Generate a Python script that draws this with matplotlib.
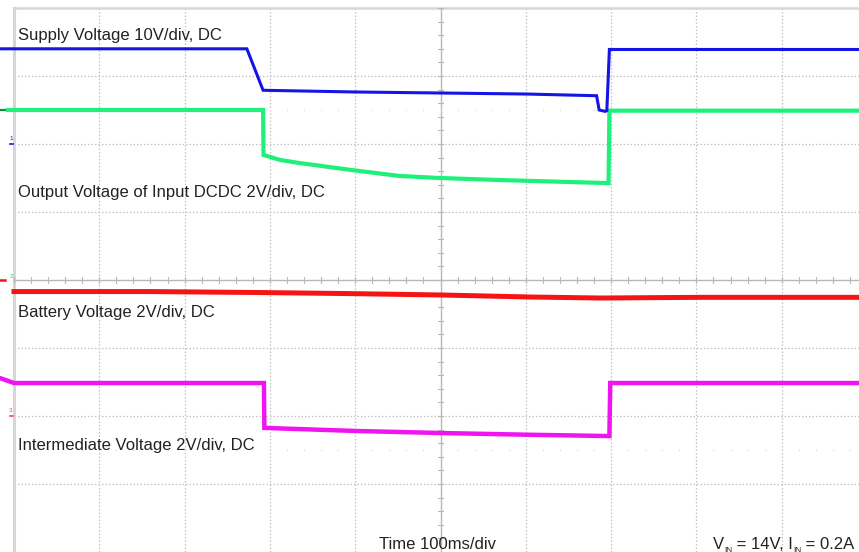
import matplotlib
matplotlib.use("Agg")
import matplotlib.pyplot as plt
import numpy as np

plt.rcParams['font.family'] = ['Liberation Sans', 'DejaVu Sans']

# Screen geometry: 10 horizontal divisions of 100 ms, 8 vertical divisions
MS_PER_DIV = 100.0
N_HDIV = 10
N_VDIV = 8

# Channel settings (volts per division, ground position in divisions from centre)
supply_scale, supply_ground = 10.0, 2.0
dcdc_scale, dcdc_ground = 2.0, 0.0
battery_scale, battery_ground = 2.0, -2.0
inter_scale, inter_ground = 2.0, -4.0

# Supply voltage (CH1)
supply_t = [-17, 273, 292, 400, 500, 600, 683, 686, 693, 695, 698, 990]
supply_v = [14.0, 14.0, 7.9, 7.65, 7.5, 7.35, 7.1, 5.0, 4.8, 4.9, 13.9, 13.9]

# Output voltage of input DC/DC (CH2)
dcdc_t = [-7, 292, 292.5, 312, 335, 394, 452, 499, 570, 640, 697, 698, 990]
dcdc_v = [5.0, 5.0, 3.68, 3.53, 3.44, 3.24, 3.06, 3.0, 2.94, 2.89, 2.85, 4.98, 4.98]
dcdc_pre_t = [-17, -7]
dcdc_pre_v = [5.0, 5.0]

# Battery voltage (CH3)
battery_t = [0, 160, 294, 394, 499, 605, 687, 804, 990]
battery_v = [3.66, 3.66, 3.63, 3.60, 3.56, 3.50, 3.47, 3.49, 3.49]

# Intermediate voltage (CH4)
inter_t = [-17, 0, 293, 293.5, 400, 500, 600, 698, 699, 990]
inter_v = [5.12, 4.97, 4.97, 3.65, 3.56, 3.50, 3.45, 3.41, 4.97, 4.97]

trace_labels = [
    "Supply Voltage 10V/div, DC",
    "Output Voltage of Input DCDC 2V/div, DC",
    "Battery Voltage 2V/div, DC",
    "Intermediate Voltage 2V/div, DC",
]
time_label = "Time 100ms/div"
cond_parts = ["V", "IN", " = 14V, I", "IN", " = 0.2A"]

BLUE = "#1414e6"
GREEN = "#1ef07a"
DARK_GREEN = "#178a40"
RED = "#f51414"
MAGENTA = "#f014f0"
TEXT = "#222222"
GRID = "#c2c2c2"
BORDER = "#d6d6d6"


def to_div(v, scale, ground):
    return np.asarray(v) / scale + ground


fig = plt.figure(figsize=(8.59, 5.52), dpi=100)
ax = fig.add_axes([0, 0, 1, 1])
ax.set_xlim(-14 / 0.853, (859 - 14) / 0.853)
ax.set_ylim((280 - 552) / 68, 280 / 68)
ax.axis('off')

t_end = N_HDIV * MS_PER_DIV
half = N_VDIV / 2

# graticule
for k in range(1, N_HDIV + 1):
    t = k * MS_PER_DIV
    if k == N_HDIV // 2:
        continue
    ax.plot([t, t], [-half, half], color=GRID, lw=0.9, ls=(0, (1.2, 1.6)), zorder=1)
for k in range(-int(half) + 1, int(half)):
    if k == 0:
        continue
    ax.plot([0, t_end], [k, k], color=GRID, lw=0.9, ls=(0, (1.2, 1.6)), zorder=1)

# outer border (top and left visible)
ax.plot([0, t_end], [half, half], color=BORDER, lw=1.8, zorder=1)
ax.plot([0, 0], [-half, half], color=BORDER, lw=2.2, zorder=1)

# centre axes with minor ticks
CENTRE = "#b8b8b8"
ax.plot([t_end / 2, t_end / 2], [-half, half], color=CENTRE, lw=1.0, zorder=1)
ax.plot([0, t_end], [0, 0], color=CENTRE, lw=1.0, zorder=1)
tick_t = np.arange(0, t_end + 1, MS_PER_DIV / 5)
tick_d = np.arange(-half, half + 0.01, 0.2)
for t in tick_t:
    ax.plot([t, t], [-0.05, 0.05], color=CENTRE, lw=0.8, zorder=1)
for d in tick_d:
    ax.plot([t_end / 2 - 3.5, t_end / 2 + 3.5], [d, d], color=CENTRE, lw=0.8, zorder=1)

# faint dot rows at half divisions
for d in (2.5, -2.5):
    ax.plot(tick_t, np.full_like(tick_t, d), ls='none', marker='s', ms=0.9,
            mew=0, color="#dadada", zorder=1)

# traces
ax.plot(inter_t, to_div(inter_v, inter_scale, inter_ground), color=MAGENTA,
        lw=3.2, solid_joinstyle='miter', zorder=3)
ax.plot(battery_t, to_div(battery_v, battery_scale, battery_ground), color=RED,
        lw=3.6, zorder=3)
ax.plot(dcdc_pre_t, to_div(dcdc_pre_v, dcdc_scale, dcdc_ground), color=DARK_GREEN,
        lw=1.6, zorder=3)
ax.plot(dcdc_t, to_div(dcdc_v, dcdc_scale, dcdc_ground), color=GREEN,
        lw=3.0, solid_joinstyle='miter', zorder=3)
ax.plot(supply_t, to_div(supply_v, supply_scale, supply_ground), color=BLUE,
        lw=2.2, solid_joinstyle='miter', zorder=4)

# channel ground markers and trigger level
ax.plot([-5, -1], [supply_ground, supply_ground], color=BLUE, lw=1.2, zorder=3)
ax.text(-3.5, supply_ground + 0.04, "1", color=BLUE, fontsize=4.5,
        ha='center', va='bottom')
ax.text(-3.5, dcdc_ground + 0.02, "2", color="#2ed080", fontsize=4.5,
        ha='center', va='bottom')
ax.plot([-5, -1], [battery_ground, battery_ground], color="#ff4060", lw=1.2, zorder=3)
ax.text(-3.5, battery_ground + 0.04, "3", color="#ff4060", fontsize=4.5,
        ha='center', va='bottom')
ax.plot([-17, -11], [0, 0], color=RED, lw=1.8, zorder=3)


def px_y(y):
    return (280 - y) / 68


def px_x(x):
    return (x - 14) / 0.853


label_baselines = [40, 196.5, 317, 450]
for lab, yb in zip(trace_labels, label_baselines):
    ax.text(px_x(18), px_y(yb), lab, color=TEXT, fontsize=12, ha='left',
            va='baseline', zorder=5)

ax.text(px_x(379), px_y(549), time_label, color=TEXT, fontsize=12,
        ha='left', va='baseline', zorder=5)

# operating condition, with small subscripts, laid out left to right
renderer = fig.canvas.get_renderer()
x_cursor = px_x(713)
for i, part in enumerate(cond_parts):
    is_sub = (i % 2 == 1)
    txt = ax.text(x_cursor, px_y(551.5 if is_sub else 549), part, color=TEXT,
                  fontsize=6 if is_sub else 12, ha='left', va='baseline', zorder=5)
    bb = txt.get_window_extent(renderer=renderer)
    x_cursor = ax.transData.inverted().transform((bb.x1, bb.y0))[0]

fig.savefig("out.png", dpi=100, facecolor="white")
